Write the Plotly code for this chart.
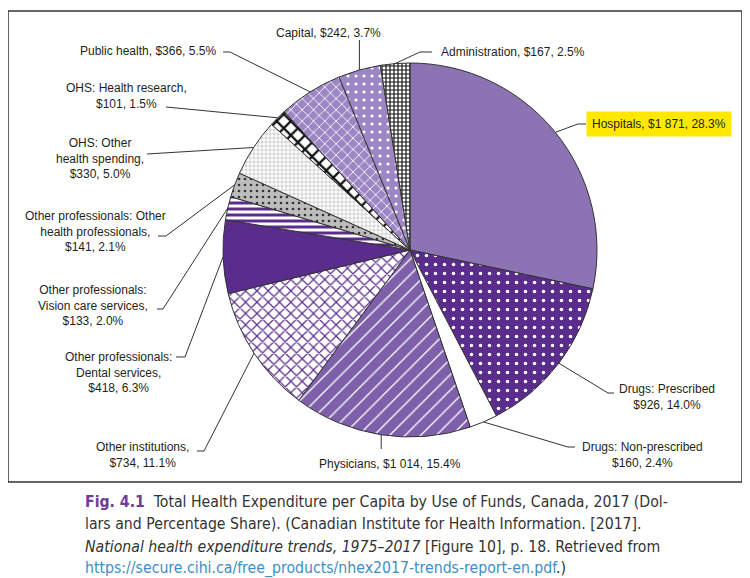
import math
import plotly.graph_objects as go

# ---------------- data ----------------
CATEGORIES = [
    "Hospitals", "Drugs: Prescribed", "Drugs: Non-prescribed", "Physicians",
    "Other institutions", "Other professionals: Dental services",
    "Other professionals: Vision care services",
    "Other professionals: Other health professionals",
    "OHS: Other health spending", "OHS: Health research",
    "Public health", "Capital", "Administration",
]
AMOUNTS = [1871, 926, 160, 1014, 734, 418, 133, 141, 330, 101, 366, 242, 167]
PERCENTS = ["28.3", "14.0", "2.4", "15.4", "11.1", "6.3", "2.0", "2.1", "5.0", "1.5", "5.5", "3.7", "2.5"]
LABEL_PREFIX = [
    "Hospitals, ",
    "Drugs: Prescribed<br>",
    "Drugs: Non-prescribed<br>",
    "Physicians, ",
    "Other institutions,<br>",
    "Other professionals:<br>Dental services,<br>",
    "Other professionals:<br>Vision care services,<br>",
    "Other professionals: Other<br>health professionals,<br>",
    "OHS: Other<br>health spending,<br>",
    "OHS: Health research,<br>",
    "Public health, ",
    "Capital, ",
    "Administration, ",
]

# ---------------- styles ----------------
BG = ["#8C74B4", "#5A2D8C", "#FFFFFF", "#7E5FA9", "#FFFFFF", "#5A2D8C", "#FFFFFF",
      "#BDBDBD", "#FFFFFF", "#FFFFFF", "#9C86C4", "#9C86C4", "#FFFFFF"]
FG = ["#8C74B4", "#FFFFFF", "#FFFFFF", "#FFFFFF", "#5A2D8C", "#5A2D8C", "#5A2D8C",
      "#333333", "#AAAAAA", "#111111", "#FFFFFF", "#FFFFFF", "#111111"]
SHAPE = ["", ".", "", "/", "x", "", "-", ".", "+", "x", "x", ".", "+"]
PSIZE = [8, 9, 8, 11, 8, 8, 6, 6, 4, 10, 8, 8, 4]
SOLID = [0.3, 0.12, 0.3, 0.12, 0.28, 0.3, 0.5, 0.15, 0.25, 0.4, 0.2, 0.12, 0.5]

# page body has an 8px margin: the figure is drawn offset by (8, 8)
OFF = 8
FW, FH = 750 - OFF, 578 - OFF
CX, CY, R = 410, 250, 187

def px(x):
    return (x - OFF) / FW

def py(y):
    return 1 - (y - OFF) / FH

# label layout (page pixels): text x, text y, xanchor, leader points after edge
LABEL_LAYOUT = [
    (586, 124, "left", [(578, 124), (586, 124)]),
    (667, 397, "center", [(608, 393), (614, 393)]),
    (642, 454.5, "center", [(568, 447), (575, 447)]),
    (390, 464, "center", [(None, 449)]),
    (142, 454.5, "center", [(204, 451), (197, 451)]),
    (118, 372, "center", [(185, 357), (176, 357)]),
    (93, 305.5, "center", [(163, 309), (157, 309)]),
    (95, 231, "center", [(166, 236), (158, 236)]),
    (100, 159, "center", [(147, 154)]),
    (126, 96, "center", [(166, 107)]),
    (218, 51, "right", [(230, 52), (223, 52)]),
    (328, 33, "center", [(None, 40)]),
    (439, 52, "left", [(420, 52), (432, 52)]),
]

def fmt_amount(a):
    return f"{a:,}".replace(",", " ")

fig = go.Figure(go.Pie(
    labels=CATEGORIES,
    values=AMOUNTS,
    sort=False,
    direction="clockwise",
    rotation=0,
    textinfo="none",
    hoverinfo="label+value",
    showlegend=False,
    domain=dict(x=[px(CX - R), px(CX + R)], y=[py(CY + R), py(CY - R)]),
    marker=dict(
        colors=BG,
        line=dict(color="#333333", width=1),
        pattern=dict(shape=SHAPE, bgcolor=BG, fgcolor=FG, size=PSIZE,
                     solidity=SOLID, fillmode="replace"),
    ),
))

total = sum(AMOUNTS)
cum = 0
annotations = []
shapes = []
LABEL_FONT = dict(family="Liberation Sans, Arial, sans-serif", size=12, color="#231F20")
for i, amt in enumerate(AMOUNTS):
    theta = 2 * math.pi * (cum + amt / 2) / total
    cum += amt
    ex = CX + R * math.sin(theta)
    ey = CY - R * math.cos(theta)
    tx, ty, xa, pts = LABEL_LAYOUT[i]
    path_pts = [(ex, ey)] + [((ex if p[0] is None else p[0]), p[1]) for p in pts]
    path = "M " + " L ".join(f"{px(x):.5f},{py(y):.5f}" for x, y in path_pts)
    shapes.append(dict(type="path", xref="paper", yref="paper", path=path,
                       line=dict(color="#333333", width=1)))
    text = LABEL_PREFIX[i] + "$" + fmt_amount(amt) + ", " + PERCENTS[i] + "%"
    ann = dict(x=px(tx), y=py(ty), xref="paper", yref="paper", text=text,
               showarrow=False, xanchor=xa, yanchor="middle", align="center",
               font=LABEL_FONT)
    if i == 0:
        ann.update(bgcolor="#FFE800", borderpad=5)
    annotations.append(ann)

# frame
shapes.append(dict(type="rect", xref="paper", yref="paper",
                   x0=px(8), x1=px(742), y0=py(482), y1=py(11),
                   line=dict(color="#333333", width=1.5)))

CAPTION = [
    '<span style="color:#6A3D9A"><b>Fig. 4.1</b></span>  Total Health Expenditure per Capita by Use of Funds, Canada, 2017 (Dol-',
    'lars and Percentage Share). (Canadian Institute for Health Information. [2017].',
    '<i>National health expenditure trends, 1975\u20132017</i> [Figure 10], p. 18. Retrieved from',
    '<span style="color:#3D8EC4">https://secure.cihi.ca/free_products/nhex2017-trends-report-en.pdf</span>.)',
]
CAP_Y = [501, 523, 546, 568]
for t, y in zip(CAPTION, CAP_Y):
    annotations.append(dict(x=px(83), y=py(y), xref="paper", yref="paper", text=t,
                            showarrow=False, xanchor="left", yanchor="middle", align="left",
                            font=dict(family="DejaVu Sans Condensed, Liberation Sans Narrow, sans-serif",
                                      size=15.7, color="#333333")))

fig.update_layout(
    width=FW, height=FH,
    margin=dict(l=0, r=0, t=0, b=0),
    paper_bgcolor="white", plot_bgcolor="white",
    annotations=annotations, shapes=shapes,
)

fig.write_html("out.html")
